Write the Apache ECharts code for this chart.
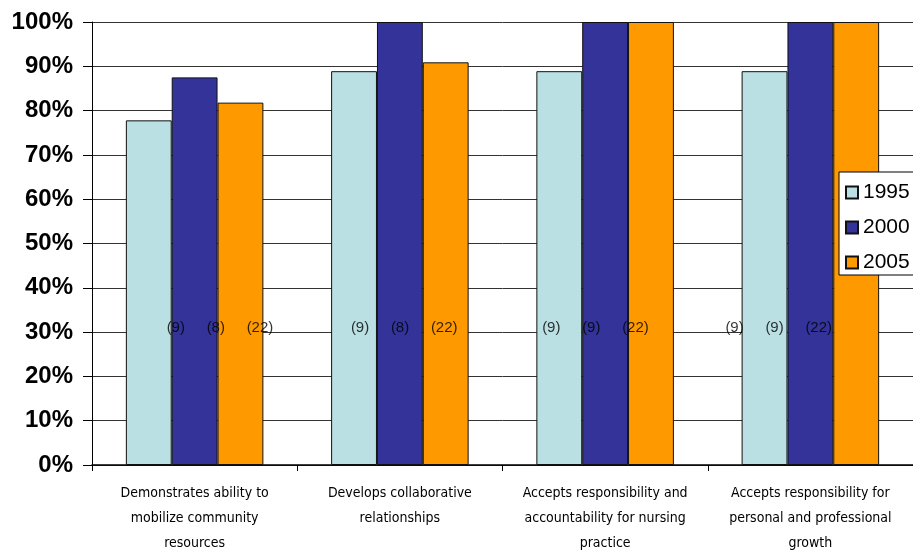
<!DOCTYPE html>
<html>
<head>
<meta charset="utf-8">
<script src="https://cdn.jsdelivr.net/npm/echarts@6/dist/echarts.min.js"></script>
<style>html,body{margin:0;padding:0;background:#fff}#c{width:913px;height:556px}</style>
</head>
<body>
<div id="c"></div>
<script>
const categories = [
  'Demonstrates ability to\nmobilize community\nresources',
  'Develops collaborative\nrelationships',
  'Accepts responsibility and\naccountability for nursing\npractice',
  'Accepts responsibility for\npersonal and professional\ngrowth'
];
const years = ['1995', '2000', '2005'];
const values1995 = [77.8, 88.9, 88.9, 88.9];
const values2000 = [87.5, 100, 100, 100];
const values2005 = [81.8, 90.9, 100, 100];
const counts1995 = [9, 9, 9, 9];
const counts2000 = [8, 8, 9, 9];
const counts2005 = [22, 22, 22, 22];
const countLevel = 31;

const colors = ['#BBE0E3', '#333399', '#FF9900'];
const allValues = [values1995, values2000, values2005];
const allCounts = [counts1995, counts2000, counts2005];
// label horizontal shifts (style), relative to category centre
const labelShift = [-28, -49, -63, -85];
const labelStep = 40;

const bars = years.map((y, k) => ({
  name: y,
  type: 'bar',
  data: allValues[k],
  barGap: '0%',
  barCategoryGap: '33%',
  itemStyle: { color: colors[k], borderColor: '#111', borderWidth: 1 },
  z: 2
}));
const notes = years.map((y, k) => ({
  name: 'n' + y,
  type: 'scatter',
  symbolSize: 1,
  itemStyle: { color: 'rgba(0,0,0,0)' },
  silent: true,
  z: 5,
  data: categories.map((c, i) => ({
    value: [i, countLevel],
    n: allCounts[k][i],
    label: { offset: [labelShift[i] + labelStep * k, 0] }
  })),
  label: {
    show: true,
    position: 'inside',
    align: 'left',
    verticalAlign: 'middle',
    color: '#000',
    fontFamily: "'Liberation Sans', Arial, sans-serif",
    fontSize: 15,
    formatter: p => '(' + p.data.n + ')'
  }
}));

const chart = echarts.init(document.getElementById('c'));
chart.setOption({
  animation: false,
  backgroundColor: '#fff',
  grid: { left: 92, right: 0, top: 22, bottom: 91 },
  legend: {
    data: years,
    orient: 'vertical',
    left: 839,
    top: 172,
    icon: 'rect',
    itemWidth: 12,
    itemHeight: 12,
    itemGap: 12,
    padding: [9, 10, 1, 6],
    borderColor: '#000',
    borderWidth: 1,
    backgroundColor: '#fff',
    z: 10,
    textStyle: { fontSize: 21, lineHeight: 23, color: '#000', fontFamily: "'Liberation Sans', Arial, sans-serif" }
  },
  xAxis: {
    type: 'category',
    data: categories,
    axisLine: { lineStyle: { color: '#000', width: 1.5 } },
    axisTick: { show: true, length: 6, lineStyle: { color: '#000' } },
    axisLabel: {
      interval: 0,
      margin: 16,
      color: '#000',
      fontSize: 14,
      lineHeight: 25,
      fontFamily: "'DejaVu Sans Condensed', 'Liberation Sans', sans-serif"
    }
  },
  yAxis: {
    type: 'value',
    min: 0,
    max: 100,
    interval: 10,
    axisLine: { show: true, lineStyle: { color: '#000' } },
    axisTick: { show: true, length: 9, lineStyle: { color: '#000' } },
    splitLine: { lineStyle: { color: '#333', width: 1 } },
    axisLabel: {
      formatter: '{value}%',
      margin: 19,
      color: '#000',
      fontSize: 24,
      fontWeight: 'bold',
      fontFamily: "'Liberation Sans', Arial, sans-serif"
    }
  },
  series: bars.concat(notes)
});
</script>
</body>
</html>
